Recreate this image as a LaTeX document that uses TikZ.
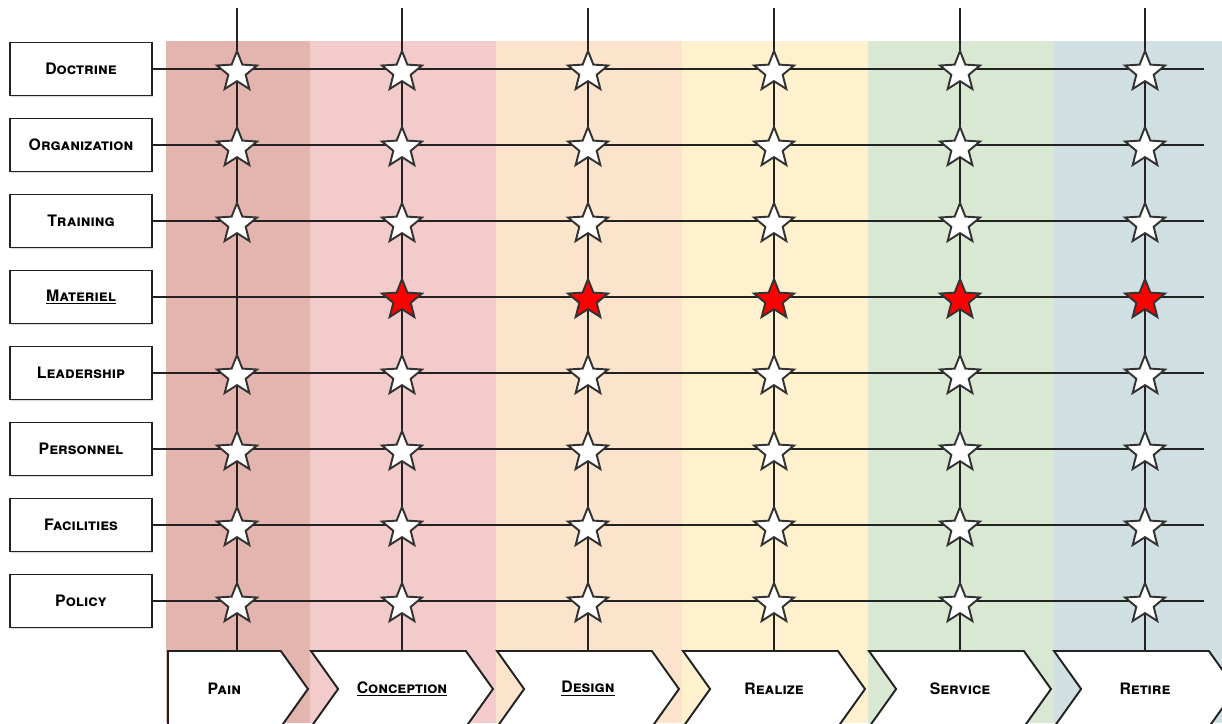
\documentclass[tikz,border=0pt]{standalone}
\usepackage{fontspec}
\setmainfont{TeX Gyre Heros}
\usetikzlibrary{shapes.geometric,shapes.symbols,shadows}
\definecolor{painband}{HTML}{E4B5AE}
\definecolor{conceptband}{HTML}{F3CBCB}
\definecolor{designband}{HTML}{FBE3CC}
\definecolor{realizeband}{HTML}{FFF1CE}
\definecolor{serviceband}{HTML}{D9E8D3}
\definecolor{retireband}{HTML}{D0DFE2}
\definecolor{ink}{HTML}{222222}
\begin{document}
\begin{tikzpicture}[x=0.02cm, y=-0.02cm,
    area/.style ={draw=ink, line width=1.1pt, fill=white, inner sep=0pt,
      minimum width=2.84cm, minimum height=1.06cm,
      font=\bfseries\scshape\fontsize{9}{10}\selectfont,
      drop shadow={shadow xshift=0.6pt, shadow yshift=-0.6pt, opacity=0.3}},
    phase/.style ={signal, signal to=east, signal from=west, signal pointer angle=109,
      draw=ink, line width=1.1pt, fill=white, inner sep=0pt,
      minimum width=3.64cm, minimum height=1.52cm,
      font=\bfseries\scshape\fontsize{9}{10}\selectfont},
    milestone/.style ={star, star points=5, star point ratio=2.3, draw=black!80,
      line width=1.1pt, fill=white, inner sep=0pt, minimum size=0.84cm},
    gridline/.style ={draw=ink, line width=1.1pt}]
   \useasboundingbox (0,0) rectangle (1222,723);
   % phase bands
   \fill[painband]    (166,41) rectangle (310,723);
   \fill[conceptband] (310,41) rectangle (496,723);
   \fill[designband]  (496,41) rectangle (682,723);
   \fill[realizeband] (682,41) rectangle (868,723);
   \fill[serviceband] (868,41) rectangle (1054,723);
   \fill[retireband]  (1054,41) rectangle (1222,723);
   % capability boxes
   \node[area] (doctrine)     at (81,69)  {Doctrine};
   \node[area] (organization) at (81,145) {Organization};
   \node[area] (training)     at (81,221) {Training};
   \node[area] (materiel)     at (81,297) {\underline{Materiel}};
   \node[area] (leadership)   at (81,373) {Leadership};
   \node[area] (personnel)    at (81,449) {Personnel};
   \node[area] (facilities)   at (81,525) {Facilities};
   \node[area] (policy)       at (81,601) {Policy};
   % life cycle phases
   \node[phase, signal from=nowhere, minimum width=2.8cm, anchor=west] (pain) at (167,689) {Pain};
   \node[phase] (conception) at (402,689)  {\underline{Conception}};
   \node[phase] (design)     at (588,689)  {\underline{Design}};
   \node[phase] (realize)    at (774,689)  {Realize};
   \node[phase] (service)    at (960,689)  {Service};
   \node[phase] (retire)     at (1145,689) {Retire};
   % grid
   \foreach \name [count=\r] in {doctrine,organization,training,materiel,leadership,personnel,facilities,policy}{
     \coordinate (\name-end) at (1204,{76*\r-7});
     \draw[gridline] (\name) -- (\name-end);
   }
   \foreach \name/\x in {pain/237,conception/402,design/588,realize/774,service/960,retire/1145}{
     \coordinate (\name-top) at (\x,8);
     \draw[gridline] (\name-top) -- (\name-top |- \name.north);
   }
   % stars
   \foreach \x [count=\c] in {237,402,588,774,960,1145}
     \foreach \r in {1,...,8}{
       \ifnum\r=4
         \ifnum\c>1 \node[milestone, fill=red] (star-\c-\r) at (\x,{76*\r-4}) {}; \fi
       \else
         \node[milestone] (star-\c-\r) at (\x,{76*\r-4}) {};
       \fi
     }
 \end{tikzpicture}
\end{document}
